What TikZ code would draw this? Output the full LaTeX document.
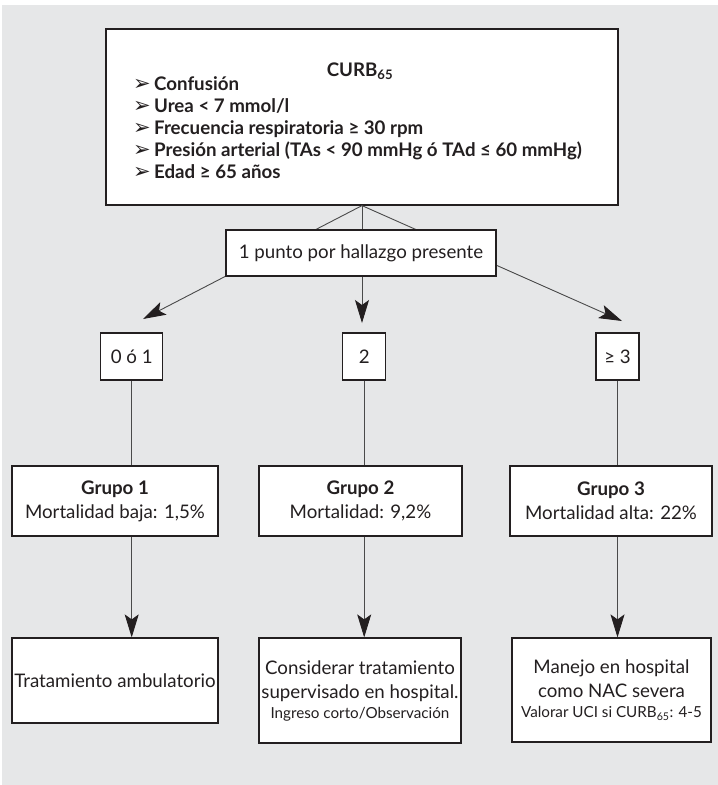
\documentclass[tikz,border=0pt]{standalone}
\usepackage{fontspec}
\setmainfont{Lato}
\newfontfamily\symfont{DejaVu Sans}
\usetikzlibrary{arrows.meta}

\definecolor{panel}{HTML}{E6E7E8}
\definecolor{ink}{HTML}{231F20}
\definecolor{wire}{HTML}{4A4A4A}

\newcommand{\mainsize}{\fontsize{18.7}{24}\selectfont}
\newcommand{\smallsize}{\fontsize{15.2}{20}\selectfont}
\newcommand{\arrowbullet}{\makebox[21pt][l]{\raisebox{-0.5pt}{\symfont\fontsize{21}{21}\selectfont ➢}}}

\tikzset{
  box/.style={draw=ink, line width=1.2pt, fill=white, inner sep=0pt,
              align=center, text=ink, font=\mainsize},
  txt/.style={inner sep=0pt, text=ink, font=\mainsize\bfseries},
  wire/.style={draw=wire, line width=0.9pt},
  flow/.style={wire, -{Stealth[length=23pt,width=14pt,inset=5pt,color=ink,fill=ink]}}
}

\begin{document}
\begin{tikzpicture}[x=1pt,y=-1pt]
\useasboundingbox (0,0) rectangle (718,785);
\fill[panel] (2,5) rectangle (718,785);

% CURB-65 criteria
\node[box, minimum width=512pt, minimum height=176pt] (curb) at (362,117) {};
\node[txt, anchor=base] (title) at (360,76) {CURB\textsubscript{65}};
\node[txt, anchor=base west] (c1) at (133,90)  {\arrowbullet Confusión};
\node[txt, anchor=base west] (c2) at (133,112) {\arrowbullet Urea < 7 mmol/l};
\node[txt, anchor=base west] (c3) at (133,134) {\arrowbullet Frecuencia respiratoria ≥ 30 rpm};
\node[txt, anchor=base west] (c4) at (133,156) {\arrowbullet Presión arterial (TAs < 90 mmHg ó TAd ≤ 60 mmHg)};
\node[txt, anchor=base west] (c5) at (133,178) {\arrowbullet Edad ≥ 65 años};

% fan of arrows towards the score classes
\coordinate (apex) at (curb.south);
\coordinate (tipL) at (143,319);
\coordinate (tipM) at (362,323);
\coordinate (tipR) at (622,321);
\draw[flow] (apex) -- (tipL);
\draw[flow] (apex) -- (tipM);
\draw[flow] (apex) -- (tipR);

\node[box, minimum width=270pt, minimum height=46pt] (punto) at (361,253) {1 punto por hallazgo presente};

% score classes
\node[box, minimum width=62pt, minimum height=47pt] (r1) at (131.7,356.5) {0 ó 1};
\node[box, minimum width=43pt, minimum height=47pt] (r2) at (364.2,356.5) {2};
\node[box, minimum width=43pt, minimum height=47pt] (r3) at (617.5,356.5) {≥ 3};

% risk groups
\node[box, minimum width=206pt, minimum height=70pt] (g1) at (115,501)
  {\textbf{Grupo 1}\\Mortalidad baja: 1,5\%};
\node[box, minimum width=203pt, minimum height=70pt] (g2) at (360.5,501)
  {\textbf{Grupo 2}\\Mortalidad: 9,2\%};
\node[box, minimum width=202pt, minimum height=70pt] (g3) at (611,501)
  {\textbf{Grupo 3}\\Mortalidad alta: 22\%};

\draw[wire] (r1.south) -- (r1.south |- g1.north);
\draw[wire] (r2.south) -- (r2.south |- g2.north);
\draw[wire] (r3.south) -- (r3.south |- g3.north);

% management
\node[box, minimum width=206pt, minimum height=85pt] (t1) at (115,680.5)
  {Tratamiento ambulatorio};
\node[box, minimum width=202pt, minimum height=105pt] (t2) at (360,690.5)
  {Considerar tratamiento\\supervisado en hospital.\\[-4pt]{\smallsize Ingreso corto/Observación}};
\node[box, minimum width=199pt, minimum height=104pt] (t3) at (611.5,690)
  {Manejo en hospital\\como NAC severa\\[-4pt]{\smallsize Valorar UCI si CURB\textsubscript{65}: 4-5}};

\draw[flow] (r1.south |- g1.south) -- (r1.south |- t1.north);
\draw[flow] (r2.south |- g2.south) -- (r2.south |- t2.north);
\draw[flow] (r3.south |- g3.south) -- (r3.south |- t3.north);
\end{tikzpicture}
\end{document}
